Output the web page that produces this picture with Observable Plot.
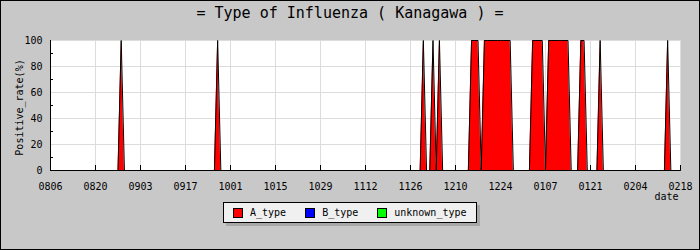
<!DOCTYPE html>
<html>
<head>
<meta charset="utf-8">
<script src="https://cdn.jsdelivr.net/npm/d3@7"></script>
<script src="https://cdn.jsdelivr.net/npm/@observablehq/plot@0.6"></script>
<style>
  html, body { margin: 0; padding: 0; background: #c8c8c8; }
  #chart { position: relative; width: 700px; height: 250px; background: #c8c8c8; overflow: hidden;
           font-family: "DejaVu Sans Mono", monospace; color: #000; }
  #title { height: 28px; line-height: 27px; font-size: 15px; text-align: center; white-space: pre; }
  #legend { position: absolute; left: 223px; top: 202px; width: 254px; height: 21px; box-sizing: border-box;
            border: 1px solid #000; background: #f0f0f0; box-shadow: 3px 3px 0 #a8a8a8;
            display: flex; align-items: center; padding-left: 9px; font-size: 10px; white-space: pre; }
  #legend .item { display: flex; align-items: center; margin-right: 19px; }
  #legend .sw { width: 10px; height: 10px; box-sizing: border-box; border: 1px solid #000; margin-right: 7px; }
  #border { position: absolute; left: 0; top: 0; width: 700px; height: 250px; box-sizing: border-box;
            border: 1px solid #000; pointer-events: none; }
</style>
</head>
<body>
<div id="chart">
  <div id="title"></div>
  <div id="plot"></div>
  <div id="legend"></div>
  <div id="border"></div>
</div>
<script>
// ---- data ----
const titleText = "= Type of Influenza ( Kanagawa ) =";
const yLabel = "Positive_rate(%)";
const xLabel = "date";

const xTickLabels = ["0806","0820","0903","0917","1001","1015","1029","1112","1126","1210","1224","0107","0121","0204","0218"];
const yTicks = [0, 20, 40, 60, 80, 100];
const yMinorTicks = [10, 30, 50, 70, 90];

const seriesNames = ["A_type", "B_type", "unknown_type"];
const seriesColors = ["#ff0000", "#0000ff", "#00ff00"];

// A_type positive rate (%) per day (MMDD); B_type and unknown_type are 0 throughout
const aDays = [
  "0806",
  "0827","0828","0829",
  "0926","0927","0928",
  "1129","1130","1201","1202","1203","1204","1205","1206",
  "1214","1215","1216","1217","1218",
  "1219","1220","1221","1222","1223","1224","1225","1226","1227","1228",
  "0102","0103","0104","0105","0106","0107",
  "0108","0109","0110","0111","0112","0113","0114","0115",
  "0117","0118","0119","0120",
  "0123","0124","0125",
  "0213","0214","0215",
  "0218"
];
const aValues = [
  0,
  0,100,0,
  0,100,0,
  0,100,0,0,100,0,100,0,
  0,100,100,100,0,
  100,100,100,100,100,100,100,100,100,0,
  0,100,100,100,100,0,
  100,100,100,100,100,100,100,0,
  0,100,100,0,
  0,100,0,
  0,100,0,
  0
];

// ---- build ----
const parseMD = s => {
  const m = +s.slice(0, 2), d = +s.slice(2);
  return new Date(Date.UTC(m >= 8 ? 2012 : 2013, m - 1, d));
};
const data = aDays.map((d, i) => ({date: parseMD(d), value: aValues[i]}));
const xTicks = xTickLabels.map(parseMD);
const labelOf = new Map(xTicks.map((t, i) => [+t, xTickLabels[i]]));

document.getElementById("title").textContent = titleText;

const W = 700, H = 174, mT = 12, mB = 32, mL = 50, mR = 20;
const plotW = W - mL - mR, plotH = H - mT - mB;

const chart = Plot.plot({
  width: W, height: H,
  marginTop: mT, marginBottom: mB, marginLeft: mL, marginRight: mR,
  style: {background: "transparent", fontFamily: "'DejaVu Sans Mono', monospace", fontSize: "10px", color: "#000"},
  x: {type: "utc", domain: [xTicks[0], xTicks[xTicks.length - 1]], ticks: xTicks,
      tickFormat: d => labelOf.get(+d), tickSize: 0, tickPadding: 12, label: null},
  y: {domain: [0, 100], ticks: yTicks, tickSize: 0, tickPadding: 8, label: null},
  marks: [
    Plot.frame({fill: "white", stroke: null}),
    Plot.ruleY(yTicks.filter(v => v > 0), {y: d => d, stroke: "#dcdcdc"}),
    Plot.ruleX(xTicks, {x: d => d, stroke: "#dcdcdc"}),
    Plot.tickX(xTicks, {x: d => d, stroke: "#000", insetTop: plotH - 5}),
    Plot.tickY(yMinorTicks, {y: d => d, stroke: "#000", insetRight: plotW - 3}),
    Plot.areaY(data, {x: "date", y: "value", fill: seriesColors[0]}),
    Plot.lineY(data, {x: "date", y: "value", stroke: "#000", strokeWidth: 1}),
    Plot.ruleY([0], {stroke: "#000"}),
    Plot.ruleX([xTicks[0]], {stroke: "#000"}),
    Plot.text([yLabel], {text: d => d, frameAnchor: "left", rotate: -90, textAnchor: "middle", lineAnchor: "middle",
                         dx: -31, dy: 2, fill: "#000"}),
    Plot.text([xLabel], {text: d => d, frameAnchor: "bottom-right", textAnchor: "end", lineAnchor: "middle",
                         dx: -2, dy: 26, fill: "#000"})
  ]
});
document.getElementById("plot").appendChild(chart);

const legend = document.getElementById("legend");
seriesNames.forEach((name, i) => {
  const item = document.createElement("span");
  item.className = "item";
  const sw = document.createElement("span");
  sw.className = "sw";
  sw.style.background = seriesColors[i];
  item.appendChild(sw);
  item.appendChild(document.createTextNode(name));
  legend.appendChild(item);
});
</script>
</body>
</html>
